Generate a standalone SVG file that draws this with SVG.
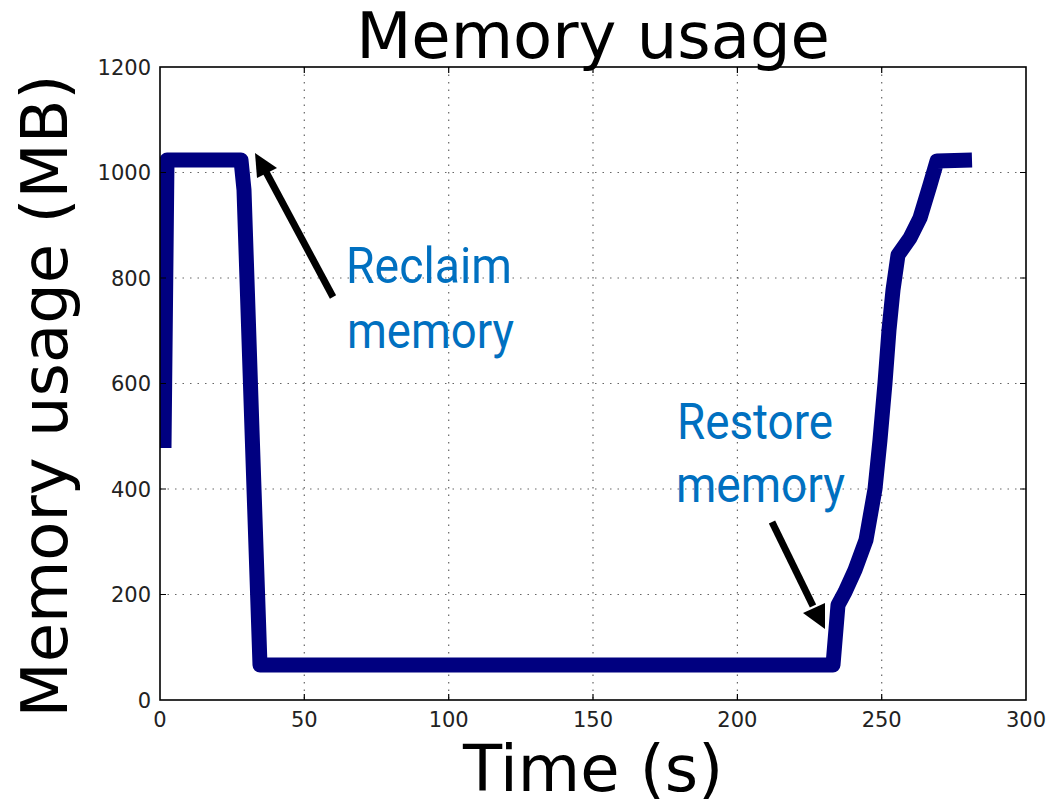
<svg xmlns="http://www.w3.org/2000/svg" width="1050" height="805" viewBox="0 0 1050 805">
  <style>
    .grid { stroke: #666; stroke-width: 1.2; stroke-dasharray: 1.5 6; fill: none; }
    .tick { stroke: #000; stroke-width: 1.2; }
    .frame { fill: none; stroke: #000; stroke-width: 1.6; }
    .tl { font-family: "DejaVu Sans", sans-serif; font-size: 21px; fill: #222; }
    .big { font-family: "DejaVu Sans", sans-serif; font-size: 64px; fill: #000; }
    .note { font-family: Roboto, "Liberation Sans", sans-serif; font-size: 50px; fill: #0070c0; }
    .series { fill: none; stroke: #000080; stroke-width: 15; stroke-linejoin: round; stroke-linecap: butt; }
  </style>
  <defs>
    <clipPath id="plotArea">
      <rect x="160" y="67" width="866" height="633"/>
    </clipPath>
  </defs>
  <rect width="1050" height="805" fill="#fff"/>

  <!-- grid -->
  <g id="grid">
    <path class="grid" d="M304.3 67V700M448.7 67V700M593 67V700M737.4 67V700M881.7 67V700"/>
    <path class="grid" d="M160 594.5H1026M160 489H1026M160 383.5H1026M160 278H1026M160 172.5H1026"/>
  </g>

  <!-- memory series -->
  <g id="series" clip-path="url(#plotArea)">
    <path class="series" d="M164 448 L167 160 L241 160 L244 190 L252 430 L260 665 L833 665 L838 605 L845 592 L855 570 L866 540 L875 489 L880 440 L885 383 L889 330 L893 290 L898 255 L910 238 L920 218 L930 185 L937 161 L972 160"/>
  </g>

  <!-- axes frame and ticks -->
  <g id="axes">
    <rect class="frame" x="160" y="67" width="866" height="633"/>
    <path class="tick" d="M304.3 700v-6M448.7 700v-6M593 700v-6M737.4 700v-6M881.7 700v-6M304.3 67v6M448.7 67v6M593 67v6M737.4 67v6M881.7 67v6"/>
    <path class="tick" d="M160 594.5h6M160 489h6M160 383.5h6M160 278h6M160 172.5h6M1026 594.5h-6M1026 489h-6M1026 383.5h-6M1026 278h-6M1026 172.5h-6"/>
  </g>

  <!-- tick labels -->
  <g id="xticks" class="tl" text-anchor="middle">
    <text x="160" y="727">0</text>
    <text x="304.3" y="727">50</text>
    <text x="448.7" y="727">100</text>
    <text x="593" y="727">150</text>
    <text x="737.4" y="727">200</text>
    <text x="881.7" y="727">250</text>
    <text x="1026" y="727">300</text>
  </g>
  <g id="yticks" class="tl" text-anchor="end">
    <text x="151" y="707.5">0</text>
    <text x="151" y="602">200</text>
    <text x="151" y="496.5">400</text>
    <text x="151" y="391">600</text>
    <text x="151" y="285.5">800</text>
    <text x="151" y="180">1000</text>
    <text x="151" y="74.5">1200</text>
  </g>

  <!-- titles -->
  <text id="title" class="big" x="593" y="58" text-anchor="middle">Memory usage</text>
  <text id="xlabel" class="big" x="593" y="791" text-anchor="middle">Time (s)</text>
  <text id="ylabel" class="big" text-anchor="middle" transform="translate(67 396) rotate(-90)">Memory usage (MB)</text>

  <!-- annotations -->
  <g id="reclaim">
    <line x1="333" y1="297" x2="266" y2="172" stroke="#000" stroke-width="7"/>
    <polygon points="255,153 277,168 257,178" fill="#000"/>
    <text class="note" x="346" y="283" textLength="166" lengthAdjust="spacingAndGlyphs">Reclaim</text>
    <text class="note" x="347" y="348" textLength="167" lengthAdjust="spacingAndGlyphs">memory</text>
  </g>
  <g id="restore">
    <line x1="772" y1="522" x2="813" y2="606" stroke="#000" stroke-width="7"/>
    <polygon points="825,629 803,613 825,603" fill="#000"/>
    <text class="note" x="677" y="439" textLength="156" lengthAdjust="spacingAndGlyphs">Restore</text>
    <text class="note" x="676" y="502" textLength="169" lengthAdjust="spacingAndGlyphs">memory</text>
  </g>
</svg>
